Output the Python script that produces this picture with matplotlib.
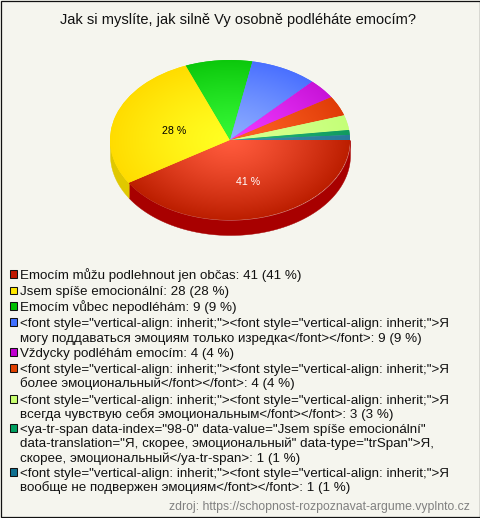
import numpy as np
import matplotlib
matplotlib.use("Agg")
import matplotlib.pyplot as plt
from matplotlib.patches import Rectangle
from matplotlib.colors import to_rgb

plt.rcParams['font.family'] = ['Liberation Sans', 'DejaVu Sans']

title = "Jak si myslíte, jak silně Vy osobně podléháte emocím?"
source = "zdroj: https://schopnost-rozpoznavat-argume.vyplnto.cz"
values = [41, 28, 9, 9, 4, 4, 3, 1, 1]
inner_colors = ['#ff5a3c', '#ffff22', '#35f835', '#8cacff', '#f038ff', '#ff6424', '#d8ff90', '#22b478', '#3c8cac']
outer_colors = ['#bc1e00', '#ffdc00', '#0cc80c', '#4a70ff', '#c814d8', '#e03c08', '#c4ff78', '#109a60', '#287898']
side_colors = ['#a80000', '#e0c800', '#00a000', '#3050d0', '#a000b0', '#b03000', '#a0d060', '#008050', '#106080']
swatch_colors = ['#c01800', '#ffe800', '#00c000', '#4070ff', '#c000d0', '#e04000', '#c8ff70', '#00a060', '#107090']
legend_labels = [
    ["Emocím můžu podlehnout jen občas: 41 (41 %)"],
    ["Jsem spíše emocionální: 28 (28 %)"],
    ["Emocím vůbec nepodléhám: 9 (9 %)"],
    ['<font style="vertical-align: inherit;"><font style="vertical-align: inherit;">Я',
     'могу поддаваться эмоциям только изредка</font></font>: 9 (9 %)'],
    ["Vždycky podléhám emocím: 4 (4 %)"],
    ['<font style="vertical-align: inherit;"><font style="vertical-align: inherit;">Я',
     'более эмоциональный</font></font>: 4 (4 %)'],
    ['<font style="vertical-align: inherit;"><font style="vertical-align: inherit;">Я',
     'всегда чувствую себя эмоциональным</font></font>: 3 (3 %)'],
    ['<ya-tr-span data-index="98-0" data-value="Jsem spíše emocionální"',
     'data-translation="Я, скорее, эмоциональный" data-type="trSpan">Я,',
     'скорее, эмоциональный</ya-tr-span>: 1 (1 %)'],
    ['<font style="vertical-align: inherit;"><font style="vertical-align: inherit;">Я',
     'вообще не подвержен эмоциям</font></font>: 1 (1 %)'],
]

W, H = 480, 518
CX, CY, RX, RY, DEPTH = 230, 140, 120, 80, 15
BG = '#f5f5ee'
PX = 0.72  # points per pixel at dpi 100

fig = plt.figure(figsize=(W / 100, H / 100), dpi=100, facecolor=BG)

ax = fig.add_axes([0, 0, 1, 1])
wedges, _ = ax.pie(values, startangle=0, counterclock=False, radius=1,
                   colors=outer_colors, wedgeprops=dict(linewidth=0))
ax.set_aspect('auto')
xlim = (-CX / RX, (W - CX) / RX)
ylim = ((CY - H) / RY, CY / RY)

cum = np.concatenate([[0], np.cumsum(values)]) / np.sum(values) * 360
d = DEPTH / RY
for i in range(len(values)):
    a0, a1 = cum[i], min(cum[i + 1], 180)
    if a1 <= a0:
        continue
    t = np.radians(np.linspace(a0, a1, 80))
    ax.fill_between(np.cos(t), -np.sin(t), -np.sin(t) - d,
                    color=side_colors[i], lw=0.3, zorder=0.5)

n = 500
gx, gy = np.meshgrid(np.linspace(-1, 1, n), np.linspace(1, -1, n))
rr = np.clip(np.hypot(gx, gy), 0, 1)[..., None] ** 1.25
for w, c0, c1 in zip(wedges, inner_colors, outer_colors):
    w.set_zorder(1)
    img = (1 - rr) * np.array(to_rgb(c0)) + rr * np.array(to_rgb(c1))
    im = ax.imshow(img, extent=(-1, 1, -1, 1), aspect='auto', zorder=1.5,
                   interpolation='bilinear')
    im.set_clip_path(w)

ax.set_xlim(xlim)
ax.set_ylim(ylim)
ax.set_frame_on(False)
ax.set_xticks([])
ax.set_yticks([])

ov = fig.add_axes([0, 0, 1, 1], facecolor='none')
ov.set_xlim(0, W)
ov.set_ylim(H, 0)
ov.axis('off')

ov.text(237.5, 24, title, ha='center', va='baseline', fontsize=14.67 * PX, color='#111111')
ov.text(248, 185, "41 %", ha='center', va='baseline', fontsize=10.67 * PX, color='white')
ov.text(174.5, 133.5, "28 %", ha='center', va='baseline', fontsize=10.67 * PX, color='black')

rows = [[274], [290.5], [306], [322, 337], [352], [368, 382.5], [399, 413.5],
        [428, 442.5, 457], [472, 486.5]]
for lines, ys, col in zip(legend_labels, rows, swatch_colors):
    ov.add_patch(Rectangle((9.5, ys[0] - 4), 7.5, 7.5, facecolor=col, edgecolor='#111111', lw=0.75))
    for s, y in zip(lines, ys):
        ov.text(20.5, y + 4.7, s, ha='left', va='baseline', fontsize=13.33 * PX, color='#111111')

ov.text(470, 510, source, ha='right', va='baseline', fontsize=12.2 * PX, color='#808080')
ov.add_patch(Rectangle((0.5, 0.5), W - 1, H - 1.5, facecolor='none', edgecolor='#111111', lw=0.9))

fig.savefig('out.png', dpi=100, facecolor=BG)
